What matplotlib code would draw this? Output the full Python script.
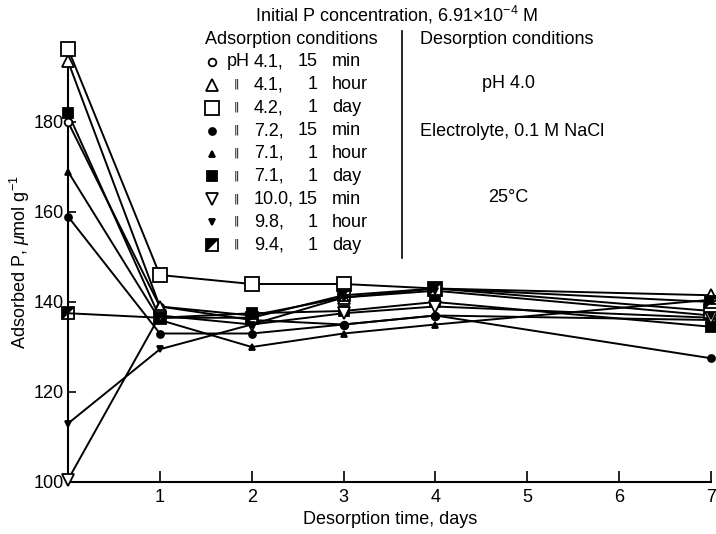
import matplotlib
matplotlib.use('Agg')
import matplotlib.pyplot as plt
import numpy as np

plt.rcParams['font.family'] = ['Liberation Sans', 'DejaVu Sans']
plt.rcParams['mathtext.fontset'] = 'custom'
plt.rcParams['mathtext.rm'] = 'Liberation Sans'
plt.rcParams['mathtext.it'] = 'Liberation Sans:italic'

# desorption time, days
days = [0, 1, 2, 3, 4, 7]

# adsorption conditions (pH, time value, time unit)
ph_vals = ['4.1,', '4.1,', '4.2,', '7.2,', '7.1,', '7.1,', '10.0,', '9.8,', '9.4,']
t_vals = ['15', '1', '1', '15', '1', '1', '15', '1', '1']
t_units = ['min', 'hour', 'day', 'min', 'hour', 'day', 'min', 'hour', 'day']

# adsorbed P, umol/g
p_41_15m = [180.0, 139.0, 136.0, 135.0, 137.0, 136.0]
p_41_1h = [193.5, 139.0, 137.0, 141.0, 143.0, 141.5]
p_42_1d = [196.3, 146.0, 144.0, 144.0, 143.0, 138.0]
p_72_15m = [159.0, 133.0, 133.0, 135.0, 137.0, 127.5]
p_71_1h = [169.0, 136.0, 130.0, 133.0, 135.0, 140.5]
p_71_1d = [182.0, 136.5, 137.5, 138.0, 140.0, 134.5]
p_100_15m = [100.5, 137.0, 135.0, 137.5, 139.0, 136.5]
p_98_1h = [113.0, 129.5, 135.0, 141.0, 142.5, 137.0]
p_94_1d = [137.5, 136.5, 136.5, 141.5, 143.0, 140.0]

series = [p_41_15m, p_41_1h, p_42_1d, p_72_15m, p_71_1h,
          p_71_1d, p_100_15m, p_98_1h, p_94_1d]

# half filled square: black upper-left triangle
half_tri = [(-1, -1), (-1, 1), (1, 1), (-1, -1)]

# marker, size, filled
styles = [('o', 5.5, False), ('^', 8, False), ('s', 10, False),
          ('o', 5, True), ('^', 5, True), ('s', 7, True),
          ('v', 8, False), ('v', 5, True), ('half', 9, None)]


def draw_marker(ax, x, y, st, **kw):
    m, ms, filled = st
    if m == 'half':
        ax.plot(x, y, ls='none', marker=half_tri, ms=ms, mfc='black',
                mec='black', mew=0, **kw)
        ax.plot(x, y, ls='none', marker='s', ms=ms, mfc='none', mec='black',
                mew=1.3, **kw)
    else:
        ax.plot(x, y, ls='none', marker=m, ms=ms,
                mfc='black' if filled else 'white', mec='black', mew=1.3, **kw)


fig = plt.figure(figsize=(7.16, 5.34), dpi=100)
ax = fig.add_axes([68 / 716, 52 / 534, 643 / 716, (482 - 43.25) / 534])

for ys, st in zip(series, styles):
    ax.plot(days, ys, color='black', lw=1.4, zorder=2)
for ys, st in zip(series, styles):
    draw_marker(ax, days, ys, st, zorder=3, clip_on=False)

ax.set_xlim(0, 7)
ax.set_ylim(100, 197.5)
ax.spines['top'].set_visible(False)
ax.spines['right'].set_visible(False)
ax.spines['left'].set_linewidth(1.5)
ax.spines['bottom'].set_linewidth(1.5)
ax.set_xticks([1, 2, 3, 4, 5, 6, 7])
ax.set_yticks([100, 120, 140, 160, 180])
ax.tick_params(axis='x', direction='in', length=8, width=1.2, pad=5, labelsize=13)
ax.tick_params(axis='y', direction='in', length=6, width=1.2, pad=3, labelsize=13)
ax.patch.set_alpha(0)

# overlay in pixel coordinates for labels and the key
lax = fig.add_axes([0, 0, 1, 1], zorder=-1)
lax.set_xlim(0, 716)
lax.set_ylim(534, 0)
lax.axis('off')

lax.text(390, 520, 'Desorption time, days', ha='center', va='center', fontsize=13)
lax.text(20, 262, r'Adsorbed P, $\mathit{\mu}$mol g$^{-1}$', ha='center', va='center',
         rotation=90, fontsize=13)

fs = 13
lax.text(397, 15, r'Initial P concentration, 6.91$\times$10$^{-4}$ M',
         ha='center', va='center', fontsize=fs)
lax.text(205, 39, 'Adsorption conditions', ha='left', va='center', fontsize=fs)
lax.text(420, 39, 'Desorption conditions', ha='left', va='center', fontsize=fs)
lax.plot([402, 402], [31, 258], color='black', lw=1.2)
lax.text(508, 84, 'pH 4.0', ha='center', va='center', fontsize=fs)
lax.text(512, 131, 'Electrolyte, 0.1 M NaCl', ha='center', va='center', fontsize=fs)
lax.text(508, 197, '25°C', ha='center', va='center', fontsize=fs)

row_y = np.linspace(62, 245, 9)
for i, st in enumerate(styles):
    yy = row_y[i]
    draw_marker(lax, [212], [yy], st)
    if i == 0:
        lax.text(227, yy, 'pH', ha='left', va='center', fontsize=fs)
    else:
        lax.text(236, yy - 1, '\u2016', ha='center', va='center', fontsize=8,
                 family='DejaVu Sans')
    lax.text(254, yy, ph_vals[i], ha='left', va='center', fontsize=fs)
    lax.text(318, yy, t_vals[i], ha='right', va='center', fontsize=fs)
    lax.text(332, yy, t_units[i], ha='left', va='center', fontsize=fs)

fig.savefig('out.png', dpi=100)
